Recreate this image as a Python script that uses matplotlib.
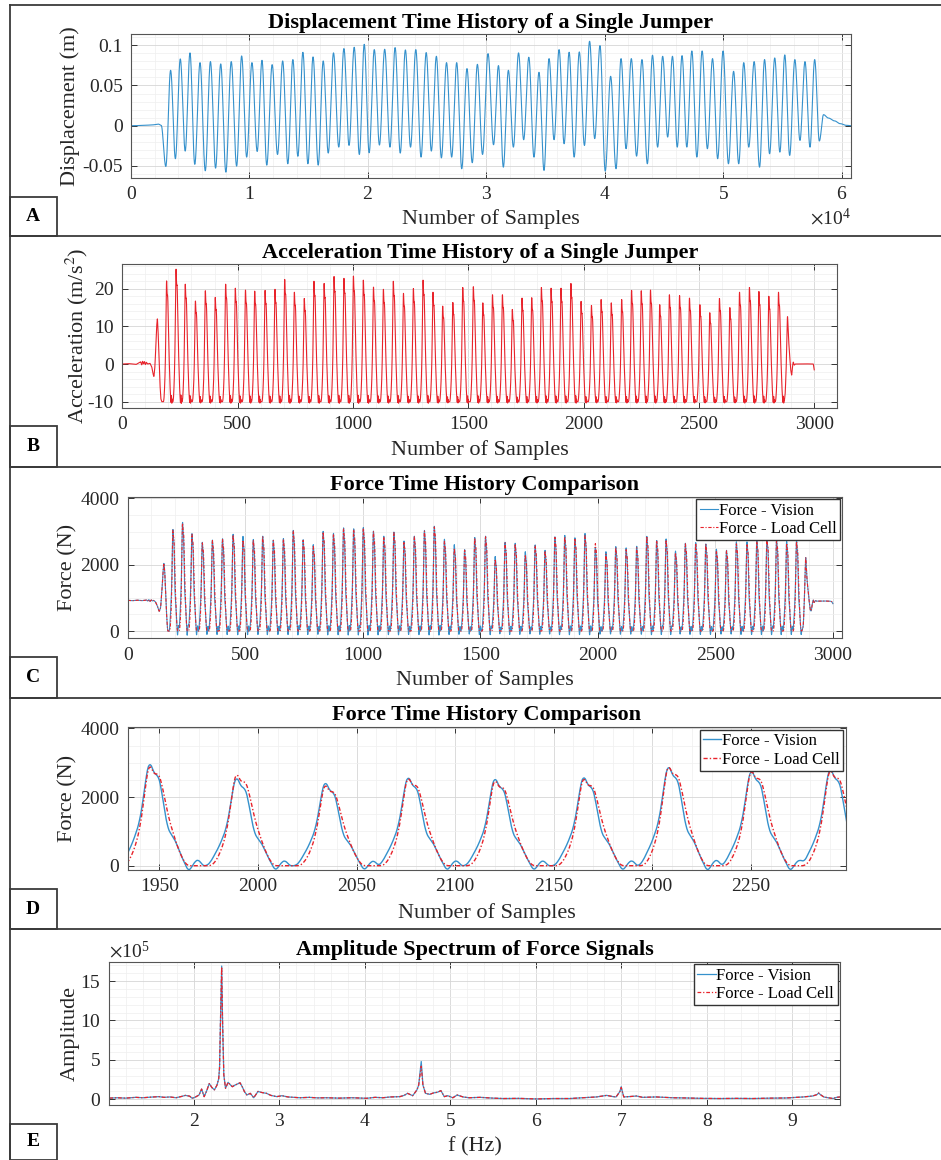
import numpy as np
import matplotlib
matplotlib.use("Agg")
import matplotlib.pyplot as plt
from matplotlib.ticker import MultipleLocator, AutoMinorLocator, FuncFormatter
from matplotlib.lines import Line2D
from matplotlib.patches import Rectangle

plt.rcParams['font.family'] = ['Liberation Serif', 'DejaVu Serif']
plt.rcParams['mathtext.fontset'] = 'stix'
plt.rcParams['axes.unicode_minus'] = False

# =====================================================================
# DATA
# =====================================================================
# sample index of every ground contact (peak of force / acceleration)
CONTACT_SAMPLES = [152, 192, 233, 273, 317, 360, 403, 448, 490, 534,
                   574, 619, 662, 704, 746, 789, 831, 875, 918, 961,
                   1002, 1045, 1089, 1132, 1175, 1219, 1262, 1304, 1347, 1389,
                   1433, 1476, 1522, 1563, 1605, 1648, 1691, 1733, 1775, 1817,
                   1859, 1902, 1945, 1989, 2034, 2076, 2120, 2165, 2208, 2250,
                   2290, 2330, 2372, 2416, 2459, 2504, 2547, 2589, 2634, 2676,
                   2719, 2760, 2803, 2845, 2884]

# panel B - acceleration peak of each contact (m/s^2)
ACC_PEAKS = [12.3, 23.0, 26.2, 22.1, 17.5, 20.3, 18.5, 22.1, 21.0, 20.5,
             20.2, 20.4, 20.7, 23.4, 19.9, 18.2, 22.9, 22.3, 24.2, 23.7,
             24.3, 23.2, 21.3, 20.7, 22.9, 19.6, 20.9, 23.2, 19.9, 16.1,
             17.1, 21.2, 21.4, 17.0, 19.2, 19.2, 15.2, 18.3, 18.4, 21.2,
             21.0, 21.0, 22.3, 17.4, 16.3, 17.9, 17.0, 17.9, 20.4, 20.3,
             20.5, 16.5, 19.2, 19.0, 18.3, 16.5, 14.3, 18.2, 15.7, 19.9,
             21.2, 20.1, 18.8, 19.9, 13.2]

# panels C/D - force peak of each contact (N)
FORCE_LC_PEAKS = [2090, 3176, 3397, 3045, 2774, 2844, 2884, 3025, 2860, 2864,
                  2965, 2844, 2894, 3146, 2854, 2663, 3116, 3055, 3226, 3196,
                  3236, 3126, 2965, 3095, 2814, 2965, 3146, 3276, 2824, 2600,
                  2543, 2925, 2965, 2261, 2774, 2744, 2400, 2693, 2523, 2945,
                  2965, 2915, 3000, 2750, 2420, 2630, 2560, 2620, 2980, 2850,
                  2870, 2462, 2744, 2764, 2724, 2523, 2523, 2744, 2744, 2824,
                  2894, 2844, 2764, 2814, 2322]
FORCE_VIS_PEAKS = [2090, 3176, 3397, 3045, 2774, 2844, 2884, 3025, 2960, 2864,
                   2965, 2844, 2894, 3146, 2854, 2700, 3116, 3055, 3226, 3196,
                   3236, 3126, 2965, 3095, 2814, 2965, 3146, 3276, 2870, 2700,
                   2543, 2925, 2965, 2330, 2774, 2744, 2480, 2693, 2523, 2945,
                   2990, 2915, 3050, 2620, 2480, 2640, 2600, 2650, 2960, 2830,
                   2880, 2500, 2744, 2764, 2724, 2560, 2523, 2790, 2790, 2850,
                   2930, 2880, 2800, 2840, 2322]

# pulse shape of one contact (fraction of peak vs samples from the peak), panel D
LC_SHAPE_DT = [-13, -11, -9, -7, -5, -3, -1.5, 0, 1.5, 3, 4.5, 6, 8, 10, 12, 14, 16, 18, 19.5]
LC_SHAPE_F = [0, 0.03, 0.1, 0.2, 0.35, 0.6, 0.85, 1.0, 0.92, 0.88, 0.9, 0.82, 0.63, 0.45, 0.32,
              0.2, 0.1, 0.03, 0]
VIS_SHAPE_DT = [-15, -13, -11, -9, -7, -5, -3, -1.5, 0, 1.5, 3, 4.5, 6, 7.5, 9, 10.5, 12, 14, 16,
                18, 19.5, 21, 23, 25, 27]
VIS_SHAPE_F = [0, 0.04, 0.12, 0.2, 0.3, 0.42, 0.65, 0.88, 1.0, 0.93, 0.86, 0.87, 0.74, 0.55, 0.38,
               0.31, 0.28, 0.2, 0.1, 0.02, -0.05, -0.03, 0.04, 0.06, 0]
ACC_SHAPE_DT = [-13, -11, -9, -7, -5, -3, -1.5, 0, 1.5, 3, 4.5, 6, 8, 10, 12, 14, 16, 18, 19.5,
                21, 22.5, 24, 25.5]
ACC_SHAPE_F = [0, 0.03, 0.1, 0.2, 0.35, 0.6, 0.85, 1.0, 0.9, 0.85, 0.86, 0.78, 0.6, 0.43, 0.3,
               0.18, 0.08, 0.02, -0.02, 0.07, -0.03, 0.03, 0]

# standing phases before the first and after the last jump
FORCE_PRE_T = [0, 20, 40, 60, 80, 85, 90, 95, 100, 105, 110, 118, 126, 134, 140, 146, 150, 154,
               158, 162, 166, 170]
FORCE_PRE_V = [925, 915, 930, 915, 935, 900, 950, 890, 940, 905, 925, 880, 760, 583, 700, 1250,
               1750, 2090, 1750, 1050, 420, 0]
FORCE_POST_T = [2868, 2874, 2878, 2881, 2884, 2887, 2890, 2894, 2899, 2904, 2908, 2912, 2916,
                2920, 2925, 2930, 2960, 2990, 2996, 3000]
FORCE_POST_V = [0, 150, 800, 1600, 2322, 1900, 1540, 1250, 900, 620, 600, 800, 950, 850, 920,
                900, 905, 900, 880, 820]
ACC_PRE_T = [0, 30, 60, 80, 84, 88, 92, 96, 100, 104, 110, 120, 128, 133, 137, 141, 145, 149,
             152, 155, 159, 163, 167, 171]
ACC_PRE_V = [0, 0.1, -0.1, 0.6, -0.3, 0.8, 0.0, 0.7, -0.2, 0.5, 0.0, 0.2, -0.8, -2.5, -3.4,
             -1.0, 4.0, 10.0, 12.3, 9.0, 2.0, -5.0, -9.2, -10.0]
ACC_POST_T = [2870, 2874, 2878, 2881, 2884, 2887, 2889, 2893, 2898, 2902, 2906, 2909, 2913,
              2918, 2960, 2996, 3000]
ACC_POST_V = [-10, -8, -2, 6, 13.2, 9, 6.4, 2.5, -1.5, -3.1, -0.5, 0.6, -0.3, 0.0, 0.05, 0.0,
              -1.6]

# panel A - displacement extremes (m); troughs at contacts, peaks in flight
DISP_TROUGHS = [-0.0506, -0.041, -0.0315, -0.048, -0.056, -0.0527, -0.0577, -0.0502, -0.039,
                -0.032, -0.049, -0.0357, -0.0473, -0.038, -0.0473, -0.049, -0.034, -0.0266,
                -0.0245, -0.0357, -0.0336, -0.024, -0.0266, -0.034, -0.0266, -0.039, -0.0315,
                -0.040, -0.039, -0.0535, -0.046, -0.0357, -0.0237, -0.0515, -0.0266, -0.0174,
                -0.039, -0.0556, -0.0174, -0.0224, -0.039, -0.0245, -0.016, -0.0564, -0.0535,
                -0.0286, -0.0378, -0.0473, -0.0266, -0.0141, -0.0266, -0.0266, -0.039, -0.0286,
                -0.041, -0.0473, -0.0473, -0.0266, -0.0515, -0.0349, -0.0328, -0.0369, -0.0183,
                -0.0266, -0.019]
DISP_PEAKS = [0.0689, 0.083, 0.0905, 0.0784, 0.0797, 0.0768, 0.0797, 0.0867, 0.0784, 0.0813,
              0.0759, 0.0805, 0.0822, 0.0913, 0.0855, 0.0805, 0.0905, 0.0959, 0.0975, 0.1012,
              0.0946, 0.095, 0.0971, 0.0942, 0.0946, 0.0909, 0.0863, 0.0784, 0.0784, 0.071,
              0.0763, 0.0896, 0.0747, 0.0689, 0.0905, 0.0851, 0.0664, 0.0834, 0.0946, 0.0913,
              0.0917, 0.105, 0.0996, 0.0614, 0.0834, 0.0834, 0.0822, 0.0876, 0.0863, 0.0863,
              0.0871, 0.0929, 0.0929, 0.0834, 0.0929, 0.0676, 0.0784, 0.0797, 0.0822, 0.0842,
              0.088, 0.0822, 0.0797, 0.0822]
DISP_PRE_T = [0, 1000, 1800, 2300, 2550]
DISP_PRE_V = [0.0, 0.0003, 0.001, 0.002, 0.0005]
DISP_POST_T = [58480, 58900, 59400, 59900, 60400, 60800]
DISP_POST_V = [0.0137, 0.0095, 0.006, 0.0025, 0.0005, 0.0]
DISP_RATE = 20.2      # displacement samples per force sample
DISP_SHIFT = -130

# panel E - amplitude spectrum (x1e5)
FREQ_HZ = [1.01, 1.1, 1.2, 1.32, 1.4, 1.5, 1.59, 1.65, 1.72, 1.79,
           1.85, 1.90, 1.95, 1.98, 2.02, 2.06, 2.09, 2.12, 2.15, 2.18,
           2.21, 2.24, 2.27, 2.29, 2.30, 2.315, 2.325, 2.335, 2.35, 2.37,
           2.40, 2.43, 2.45, 2.48, 2.50, 2.54, 2.57, 2.59, 2.62, 2.66,
           2.70, 2.75, 2.80, 2.85, 2.90, 2.97, 3.03, 3.10, 3.24, 3.35,
           3.45, 3.55, 3.7, 3.85, 4.02, 4.12, 4.21, 4.30, 4.41, 4.46,
           4.50, 4.56, 4.61, 4.63, 4.66, 4.68, 4.71, 4.76, 4.80, 4.85,
           4.89, 4.93, 4.97, 5.03, 5.08, 5.15, 5.22, 5.35, 5.5, 5.62,
           5.8, 6.01, 6.2, 6.40, 6.55, 6.71, 6.83, 6.90, 6.94, 6.985,
           7.0, 7.015, 7.03, 7.1, 7.18, 7.25, 7.41, 7.6, 7.76, 7.95,
           8.15, 8.35, 8.54, 8.75, 8.93, 9.05, 9.13, 9.24, 9.29, 9.31,
           9.33, 9.37, 9.42, 9.48, 9.52, 9.56]
AMP_LC = [0.15, 0.2, 0.15, 0.25, 0.2, 0.28, 0.34, 0.25, 0.3, 0.2,
          0.35, 0.5, 0.4, 0.13, 0.3, 0.55, 1.3, 0.34, 1.1, 2.0,
          1.5, 1.2, 1.8, 2.6, 4.0, 12.0, 16.8, 10.0, 3.1, 1.4,
          2.15, 1.8, 1.6, 1.8, 1.9, 2.1, 1.5, 1.0, 0.55, 0.76,
          0.2, 1.0, 0.85, 0.76, 0.5, 0.34, 0.46, 0.3, 0.2, 0.25,
          0.18, 0.2, 0.15, 0.2, 0.13, 0.25, 0.2, 0.3, 0.34, 0.5,
          0.76, 0.46, 1.2, 1.8, 4.2, 1.8, 0.76, 0.63, 0.8, 0.9,
          1.1, 0.34, 0.46, 0.2, 0.55, 0.3, 0.2, 0.25, 0.15, 0.1,
          0.12, 0.05, 0.1, 0.1, 0.2, 0.3, 0.5, 0.35, 0.3, 1.0,
          1.5, 0.9, 0.3, 0.35, 0.42, 0.25, 0.3, 0.2, 0.17, 0.12,
          0.1, 0.12, 0.1, 0.15, 0.17, 0.25, 0.3, 0.42, 0.6, 0.8,
          0.6, 0.3, 0.2, 0.1, 0.25, 0.3]
AMP_VIS = [0.15, 0.2, 0.15, 0.25, 0.2, 0.28, 0.34, 0.25, 0.3, 0.2,
           0.35, 0.5, 0.4, 0.13, 0.3, 0.55, 1.3, 0.34, 1.1, 2.0,
           1.5, 1.2, 1.8, 2.6, 4.0, 12.0, 16.9, 10.0, 3.1, 1.4,
           2.15, 1.8, 1.6, 1.8, 1.9, 2.1, 1.5, 1.0, 0.55, 0.76,
           0.2, 1.0, 0.85, 0.76, 0.5, 0.34, 0.46, 0.3, 0.2, 0.25,
           0.18, 0.2, 0.15, 0.2, 0.13, 0.25, 0.2, 0.3, 0.34, 0.5,
           0.76, 0.46, 1.2, 1.8, 4.8, 1.8, 0.76, 0.63, 0.8, 0.9,
           1.1, 0.34, 0.46, 0.2, 0.55, 0.3, 0.2, 0.25, 0.15, 0.1,
           0.12, 0.05, 0.1, 0.1, 0.2, 0.3, 0.5, 0.35, 0.3, 1.0,
           1.6, 0.9, 0.3, 0.35, 0.42, 0.25, 0.3, 0.2, 0.17, 0.12,
           0.1, 0.12, 0.1, 0.15, 0.17, 0.25, 0.3, 0.42, 0.6, 0.8,
           0.6, 0.3, 0.2, 0.1, 0.25, 0.3]

BLUE = '#3591CC'
RED = '#E8232B'


# =====================================================================
# SIGNAL BUILDING
# =====================================================================
def pulse_train(t, times, peaks, shape_dt, shape_f, floor):
    y = np.full(t.shape, float(floor))
    for tp, pk in zip(times, peaks):
        y += (pk - floor) * np.interp(t - tp, shape_dt, shape_f, left=0.0, right=0.0)
    return y


def with_ends(t, y, pre_t, pre_v, post_t, post_v):
    y = np.where(t <= pre_t[-1], np.interp(t, pre_t, pre_v), y)
    y = np.where(t >= post_t[0], np.interp(t, post_t, post_v), y)
    return y


def smooth(y, n=3):
    k = np.ones(n) / n
    return np.convolve(np.pad(y, n // 2, mode='edge'), k, mode='valid')


def cosine_path(t, knot_t, knot_v):
    knot_t = np.asarray(knot_t, float)
    knot_v = np.asarray(knot_v, float)
    i = np.clip(np.searchsorted(knot_t, t) - 1, 0, len(knot_t) - 2)
    u = np.clip((t - knot_t[i]) / (knot_t[i + 1] - knot_t[i]), 0, 1)
    return knot_v[i] + (knot_v[i + 1] - knot_v[i]) * (1 - np.cos(np.pi * u)) / 2


t = np.arange(0, 3000.5, 0.5)
mid_c = CONTACT_SAMPLES[1:-1]

acc = pulse_train(t, mid_c, ACC_PEAKS[1:-1], ACC_SHAPE_DT, ACC_SHAPE_F, -10.0)
acc = smooth(with_ends(t, acc, ACC_PRE_T, ACC_PRE_V, ACC_POST_T, ACC_POST_V))

f_lc = pulse_train(t, mid_c, FORCE_LC_PEAKS[1:-1], LC_SHAPE_DT, LC_SHAPE_F, 0.0)
f_lc = smooth(with_ends(t, f_lc, FORCE_PRE_T, FORCE_PRE_V, FORCE_POST_T, FORCE_POST_V), 5)

f_vis = pulse_train(t, mid_c, FORCE_VIS_PEAKS[1:-1], VIS_SHAPE_DT, VIS_SHAPE_F, 0.0)
f_vis = smooth(with_ends(t, f_vis, FORCE_PRE_T, FORCE_PRE_V, FORCE_POST_T, FORCE_POST_V), 5)

trough_t = np.array(CONTACT_SAMPLES) * DISP_RATE + DISP_SHIFT
peak_t = (trough_t[:-1] + trough_t[1:]) / 2
knots_t = list(DISP_PRE_T)
knots_v = list(DISP_PRE_V)
for k in range(len(trough_t)):
    knots_t.append(trough_t[k])
    knots_v.append(DISP_TROUGHS[k])
    if k < len(peak_t):
        knots_t.append(peak_t[k])
        knots_v.append(DISP_PEAKS[k])
knots_t += DISP_POST_T
knots_v += DISP_POST_V
t_a = np.arange(0, 60801, 10.0)
disp = cosine_path(t_a, knots_t, knots_v)

# =====================================================================
# FIGURE
# =====================================================================
W, H = 941, 1160
fig = plt.figure(figsize=(W / 100, H / 100), dpi=100)


def add_axes_px(x0, y0, x1, y1):
    return fig.add_axes([x0 / W, 1 - y1 / H, (x1 - x0) / W, (y1 - y0) / H])


def style(ax, box, title, title_y, xlabel, xlabel_y, ylabel, ylabel_x):
    x0, y0, x1, y1 = box
    ax.grid(True, which='major', color='#d6d6d6', lw=0.6)
    ax.grid(True, which='minor', color='#efefef', lw=0.5)
    ax.set_axisbelow(True)
    ax.xaxis.set_minor_locator(AutoMinorLocator())
    ax.yaxis.set_minor_locator(AutoMinorLocator())
    ax.tick_params(which='major', direction='in', length=4, width=0.7, top=True, right=True,
                   labelsize=14, color='#333333', labelcolor='#262626', pad=6)
    ax.tick_params(which='minor', length=0)
    for s in ax.spines.values():
        s.set_color('#555555')
        s.set_linewidth(0.8)
    cx = ((x0 + x1) / 2 - x0) / (x1 - x0)
    ax.set_title(title, fontsize=16, fontweight='bold', pad=0, y=(y1 - title_y) / (y1 - y0),
                 va='center')
    ax.set_xlabel(xlabel, fontsize=16, color='#262626')
    ax.xaxis.label.set_va('center')
    ax.xaxis.set_label_coords(cx, (y1 - xlabel_y) / (y1 - y0))
    ax.set_ylabel(ylabel, fontsize=16, color='#262626')
    ax.yaxis.label.set_va('center')
    ax.yaxis.set_label_coords((ylabel_x - x0) / (x1 - x0), 0.5)


def add_legend(ax):
    ax.legend(loc='upper right', fontsize=12, fancybox=False, edgecolor='#333333',
              framealpha=1, borderpad=0.2, handlelength=1.1, handletextpad=0.05,
              labelspacing=0.15, borderaxespad=0.15)


g_fmt = FuncFormatter(lambda v, p: '{:g}'.format(v))
DASHDOT = (0, (3, 1.5, 1, 1.5))

# ---- A: displacement
box_a = (131, 34, 851, 178)
ax = add_axes_px(*box_a)
ax.plot(t_a, disp, color=BLUE, lw=0.8)
ax.set_xlim(0, 60800)
ax.set_ylim(-0.065, 0.114)
ax.xaxis.set_major_locator(MultipleLocator(10000))
ax.yaxis.set_major_locator(MultipleLocator(0.05))
ax.yaxis.set_major_formatter(g_fmt)
ax.ticklabel_format(axis='x', style='sci', scilimits=(4, 4), useMathText=True)
ax.xaxis.get_offset_text().set_fontsize(14)
style(ax, box_a, 'Displacement Time History of a Single Jumper', 23,
      'Number of Samples', 219, 'Displacement (m)', 70)

# ---- B: acceleration
box_b = (122.3, 264.3, 837.3, 407.7)
ax = add_axes_px(*box_b)
ax.plot(t, acc, color=RED, lw=0.8)
ax.set_xlim(0, 3100)
ax.set_ylim(-11.6, 26.5)
ax.xaxis.set_major_locator(MultipleLocator(500))
ax.yaxis.set_major_locator(MultipleLocator(10))
style(ax, box_b, 'Acceleration Time History of a Single Jumper', 253,
      'Number of Samples', 450, 'Acceleration (m/s$^2$)', 77)


def force_panel(box, xlim, ylim, xstep, title_y, xlabel_y, lw):
    ax = add_axes_px(*box)
    ax.plot(t, f_vis, color=BLUE, lw=lw, label='Force - Vision')
    ax.plot(t, f_lc, color=RED, lw=lw, ls=DASHDOT, label='Force - Load Cell')
    ax.set_xlim(*xlim)
    ax.set_ylim(*ylim)
    ax.xaxis.set_major_locator(MultipleLocator(xstep))
    ax.yaxis.set_major_locator(MultipleLocator(2000))
    style(ax, box, 'Force Time History Comparison', title_y,
          'Number of Samples', xlabel_y, 'Force (N)', 68)
    add_legend(ax)
    return ax


force_panel((127.7, 496.7, 842.3, 638.3), (0, 3040), (-220, 4050), 500, 485, 680, 0.8)
force_panel((127.7, 727.3, 845.7, 870), (1934, 2298), (-125, 4030), 50, 715, 913, 1.0)

# ---- E: spectrum
box_e = (109.3, 961.7, 840, 1105)
ax = add_axes_px(*box_e)
ax.plot(FREQ_HZ, np.array(AMP_VIS) * 1e5, color=BLUE, lw=0.9, label='Force - Vision')
ax.plot(FREQ_HZ, np.array(AMP_LC) * 1e5, color=RED, lw=0.9, ls=DASHDOT,
        label='Force - Load Cell')
ax.set_xlim(1.01, 9.56)
ax.set_ylim(-0.72e5, 17.45e5)
ax.xaxis.set_major_locator(MultipleLocator(1))
ax.yaxis.set_major_locator(MultipleLocator(5e5))
ax.ticklabel_format(axis='y', style='sci', scilimits=(5, 5), useMathText=True)
ax.yaxis.get_offset_text().set_fontsize(14)
style(ax, box_e, 'Amplitude Spectrum of Force Signals', 950, 'f (Hz)', 1147, 'Amplitude', 70)
add_legend(ax)

# ---- table borders and panel letters
line_kw = dict(transform=fig.transFigure, color='#3a3a3a', lw=1.3)
fig.add_artist(Line2D([10 / W, 10 / W], [1 - 5 / H, 0], **line_kw))
for yy in [5, 236, 467, 698, 929]:
    fig.add_artist(Line2D([10 / W, 1], [1 - yy / H, 1 - yy / H], **line_kw))
for letter, (top, bot) in zip('ABCDE', [(197, 236), (426, 467), (657, 698), (889, 929),
                                        (1124, 1160)]):
    fig.add_artist(Rectangle((10 / W, 1 - bot / H), 47 / W, (bot - top) / H,
                             transform=fig.transFigure, fill=False, ec='#3a3a3a', lw=1.3))
    fig.text(33 / W, 1 - (top + bot) / 2 / H, letter, ha='center', va='center',
             fontsize=14, fontweight='bold')

fig.savefig('out.png', dpi=100)
